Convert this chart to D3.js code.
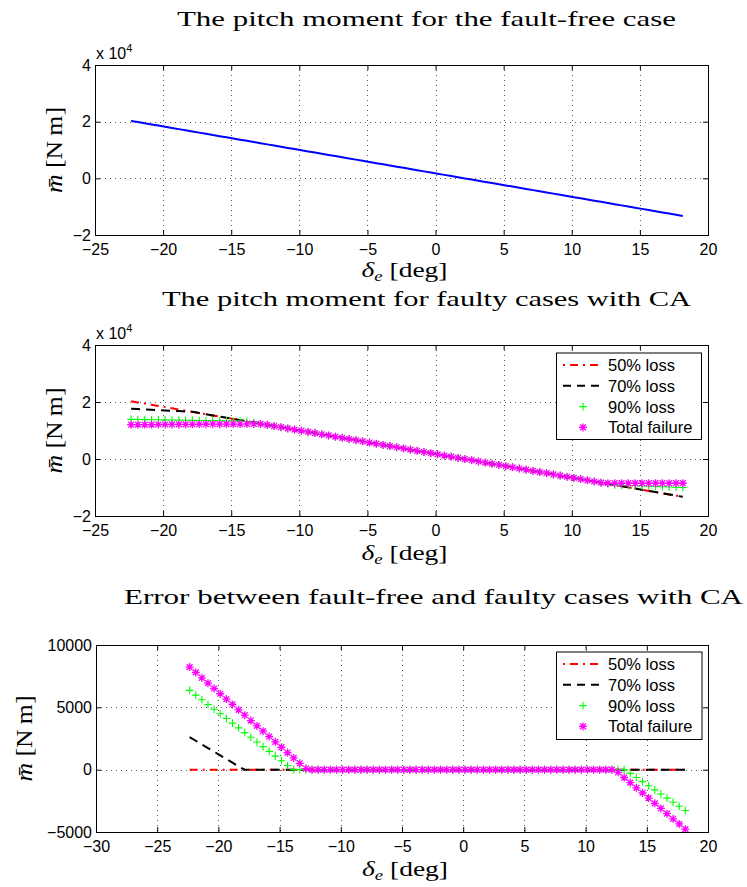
<!DOCTYPE html>
<html><head><meta charset="utf-8">
<script src="https://cdn.jsdelivr.net/npm/d3@7/dist/d3.min.js"></script>
<style>
html,body{margin:0;padding:0;background:#fff;}
svg{display:block;}
</style></head>
<body>
<svg id="chart" width="747" height="887"></svg>
<script>
// ---------------- DATA ----------------
// elevator deflection [deg]
const delta = [
 -22.35,-21.85,-21.35,-20.85,-20.35,-19.85,-19.35,-18.85,-18.35,-17.85,
 -17.35,-16.85,-16.35,-15.85,-15.35,-14.85,-14.35,-13.85,-13.35,-12.85,
 -12.35,-11.85,-11.35,-10.85,-10.35,-9.85,-9.35,-8.85,-8.35,-7.85,
 -7.35,-6.85,-6.35,-5.85,-5.35,-4.85,-4.35,-3.85,-3.35,-2.85,
 -2.35,-1.85,-1.35,-0.85,-0.35,0.15,0.65,1.15,1.65,2.15,
 2.65,3.15,3.65,4.15,4.65,5.15,5.65,6.15,6.65,7.15,
 7.65,8.15,8.65,9.15,9.65,10.15,10.65,11.15,11.65,12.15,
 12.65,13.15,13.65,14.15,14.65,15.15,15.65,16.15,16.65,17.15,
 17.65,18.15];

// pitch moment, fault-free [N m]
const mFaultFree = [
 20270,19850,19440,19020,18610,18200,17780,17370,16950,16540,
 16130,15710,15300,14880,14470,14060,13640,13230,12810,12400,
 11990,11570,11160,10740,10330,9920,9500,9090,8670,8260,
 7850,7430,7020,6600,6190,5780,5360,4950,4530,4120,
 3710,3290,2880,2460,2050,1640,1220,810,390,-20,
 -430,-850,-1260,-1680,-2090,-2500,-2920,-3330,-3750,-4160,
 -4570,-4990,-5400,-5820,-6230,-6640,-7060,-7470,-7890,-8300,
 -8710,-9130,-9540,-9960,-10370,-10780,-11200,-11610,-12030,-12440,
 -12850,-13270];

// pitch moment, faulty cases with CA [N m]
const m50 = [
 20270,19850,19440,19020,18610,18200,17780,17370,16950,16540,
 16130,15710,15300,14880,14470,14060,13640,13230,12810,12400,
 11990,11570,11160,10740,10330,9920,9500,9090,8670,8260,
 7850,7430,7020,6600,6190,5780,5360,4950,4530,4120,
 3710,3290,2880,2460,2050,1640,1220,810,390,-20,
 -430,-850,-1260,-1680,-2090,-2500,-2920,-3330,-3750,-4160,
 -4570,-4990,-5400,-5820,-6230,-6640,-7060,-7470,-7890,-8300,
 -8710,-9130,-9540,-9960,-10370,-10780,-11200,-11610,-12030,-12440,
 -12850,-13270];
const m70 = [
 17660,17530,17420,17290,17170,17060,16930,16810,16690,16540,
 16130,15710,15300,14880,14470,14060,13640,13230,12810,12400,
 11990,11570,11160,10740,10330,9920,9500,9090,8670,8260,
 7850,7430,7020,6600,6190,5780,5360,4950,4530,4120,
 3710,3290,2880,2460,2050,1640,1220,810,390,-20,
 -430,-850,-1260,-1680,-2090,-2500,-2920,-3330,-3750,-4160,
 -4570,-4990,-5400,-5820,-6230,-6640,-7060,-7470,-7890,-8300,
 -8710,-9130,-9540,-9960,-10370,-10780,-11200,-11610,-12030,-12440,
 -12850,-13270];
const m90 = [
 13910,13870,13830,13790,13760,13720,13680,13640,13600,13570,
 13530,13490,13450,13410,13380,13340,13300,13230,12810,12400,
 11990,11570,11160,10740,10330,9920,9500,9090,8670,8260,
 7850,7430,7020,6600,6190,5780,5360,4950,4530,4120,
 3710,3290,2880,2460,2050,1640,1220,810,390,-20,
 -430,-850,-1260,-1680,-2090,-2500,-2920,-3330,-3750,-4160,
 -4570,-4990,-5400,-5820,-6230,-6640,-7060,-7470,-7890,-8300,
 -8710,-9130,-9240,-9330,-9410,-9490,-9580,-9660,-9750,-9830,
 -9910,-10000];
const mTotal = [
 12040,12050,12070,12080,12100,12110,12120,12140,12150,12170,
 12190,12200,12210,12220,12240,12260,12270,12290,12300,12310,
 11990,11570,11160,10740,10330,9920,9500,9090,8670,8260,
 7850,7430,7020,6600,6190,5780,5360,4950,4530,4120,
 3710,3290,2880,2460,2050,1640,1220,810,390,-20,
 -430,-850,-1260,-1680,-2090,-2500,-2920,-3330,-3750,-4160,
 -4570,-4990,-5400,-5820,-6230,-6640,-7060,-7470,-7890,-8300,
 -8500,-8500,-8500,-8500,-8500,-8500,-8500,-8500,-8500,-8500,
 -8500,-8500];

// error between fault-free and faulty cases [N m]
const e50 = [
 0,0,0,0,0,0,0,0,0,0, 0,0,0,0,0,0,0,0,0,0,
 0,0,0,0,0,0,0,0,0,0, 0,0,0,0,0,0,0,0,0,0,
 0,0,0,0,0,0,0,0,0,0, 0,0,0,0,0,0,0,0,0,0,
 0,0,0,0,0,0,0,0,0,0, 0,0,0,0,0,0,0,0,0,0,
 0,0];
const e70 = [
 2610,2320,2020,1730,1440,1140,850,560,260,0,
 0,0,0,0,0,0,0,0,0,0, 0,0,0,0,0,0,0,0,0,0,
 0,0,0,0,0,0,0,0,0,0, 0,0,0,0,0,0,0,0,0,0,
 0,0,0,0,0,0,0,0,0,0, 0,0,0,0,0,0,0,0,0,0,
 0,0,0,0,0,0,0,0,0,0,
 0,0];
const e90 = [
 6360,5980,5610,5230,4850,4480,4100,3730,3350,2970,
 2600,2220,1850,1470,1090,720,340,0,0,0,
 0,0,0,0,0,0,0,0,0,0, 0,0,0,0,0,0,0,0,0,0,
 0,0,0,0,0,0,0,0,0,0, 0,0,0,0,0,0,0,0,0,0,
 0,0,0,0,0,0,0,0,0,0,
 0,0,-300,-630,-960,-1290,-1620,-1950,-2280,-2610,
 -2940,-3270];
const eTotal = [
 8230,7800,7370,6940,6510,6090,5660,5230,4800,4370,
 3940,3510,3090,2660,2230,1800,1370,940,510,90,
 0,0,0,0,0,0,0,0,0,0, 0,0,0,0,0,0,0,0,0,0,
 0,0,0,0,0,0,0,0,0,0, 0,0,0,0,0,0,0,0,0,0,
 0,0,0,0,0,0,0,0,0,0,
 -210,-630,-1040,-1460,-1870,-2280,-2700,-3110,-3530,-3940,
 -4350,-4770];

const legendLabels = ["50% loss","70% loss","90% loss","Total failure"];
const titles = ["The pitch moment for the fault-free case",
                "The pitch moment for faulty cases with CA",
                "Error between fault-free and faulty cases with CA"];
const xTicksA = [-25,-20,-15,-10,-5,0,5,10,15,20];
const xTicksB = [-30,-25,-20,-15,-10,-5,0,5,10,15,20];
const yTicksA = [-20000,0,20000,40000];
const yTicksB = [-5000,0,5000,10000];

// ---------------- DRAWING ----------------
const SANS = '"Liberation Sans", Arial, Helvetica, sans-serif';
const SERIF = '"Liberation Serif", "Times New Roman", serif';
const svg = d3.select("#chart");
svg.append("rect").attr("width",747).attr("height",887).attr("fill","#fff");

const fmtNum = d3.format("d");
const fmtExp = d => d3.format("d")(d/1e4);

const style50 = {type:"line", color:"#ff0000", dash:"8,5,2,5", legDash:"2,5,8,5"};
const style70 = {type:"line", color:"#000000", dash:"9,6", legDash:"8,6"};
const style90 = {type:"marker", color:"#00ff00", mark:"plus"};
const styleTot = {type:"marker", color:"#ff00ff", mark:"star"};

const markPaths = {
  plus: "M-3.8,0H3.8M0,-3.8V3.8",
  star: "M-4,0H4M0,-4V4M-2.9,-2.9L2.9,2.9M-2.9,2.9L2.9,-2.9"
};

const panels = [
  {top:65,bottom:235,left:95,right:708,xDomain:[-25,20],yDomain:[-20000,40000],
   xTicks:xTicksA,yTicks:yTicksA,yFmt:fmtExp,exp:true,expY:59,
   title:titles[0],titleX:177,titleW:499,titleY:26,
   xlabY:277,ylabX:62,
   series:[{values:mFaultFree, style:{type:"line",color:"#0000ff",dash:null}}],
   legend:null},
  {top:345,bottom:516,left:95,right:708,xDomain:[-25,20],yDomain:[-20000,40000],
   xTicks:xTicksA,yTicks:yTicksA,yFmt:fmtExp,exp:true,expY:339,
   title:titles[1],titleX:162,titleW:529,titleY:306,
   xlabY:560,ylabX:62,
   series:[{values:m50,style:style50},{values:m70,style:style70},{values:m90,style:style90},{values:mTotal,style:styleTot}],
   legend:{x0:556,y0:352.5,x1:701,y1:439}},
  {top:645,bottom:832,left:96,right:708,xDomain:[-30,20],yDomain:[-5000,10000],
   xTicks:xTicksB,yTicks:yTicksB,yFmt:fmtNum,exp:false,
   title:titles[2],titleX:124,titleW:619,titleY:604,
   xlabY:876,ylabX:32,
   series:[{values:e50,style:style50},{values:e70,style:style70},{values:e90,style:style90},{values:eTotal,style:styleTot}],
   legend:{x0:556,y0:651.5,x1:701.5,y1:739}}
];

function styleAxis(sel){
  sel.select(".domain").remove();
  sel.selectAll(".tick line").attr("stroke","#000").attr("stroke-width",1);
  sel.selectAll(".tick text").attr("fill","#000").style("font-family",SANS).style("font-size","16px");
}

panels.forEach(o=>{
  const g = svg.append("g");
  const x = d3.scaleLinear().domain(o.xDomain).range([o.left,o.right]);
  const y = d3.scaleLinear().domain(o.yDomain).range([o.bottom,o.top]);

  // grid (dotted)
  const grid = g.append("g");
  o.xTicks.filter(t=>t>o.xDomain[0]&&t<o.xDomain[1]).forEach(t=>{
    grid.append("line").attr("x1",Math.round(x(t))+0.5).attr("x2",Math.round(x(t))+0.5)
      .attr("y1",o.top).attr("y2",o.bottom);
  });
  o.yTicks.filter(t=>t>o.yDomain[0]&&t<o.yDomain[1]).forEach(t=>{
    grid.append("line").attr("y1",Math.round(y(t))+0.5).attr("y2",Math.round(y(t))+0.5)
      .attr("x1",o.left).attr("x2",o.right);
  });
  grid.selectAll("line").attr("stroke","#000").attr("stroke-width",1)
    .attr("stroke-dasharray","1,4").attr("stroke-opacity",0.65);

  // axes with inward ticks on all four sides
  g.append("g").attr("transform",`translate(0,${o.bottom})`)
    .call(d3.axisBottom(x).tickValues(o.xTicks).tickSize(-5).tickPadding(9).tickFormat(fmtNum)).call(styleAxis);
  g.append("g").attr("transform",`translate(0,${o.top})`)
    .call(d3.axisTop(x).tickValues(o.xTicks).tickSize(-5).tickFormat("")).call(styleAxis);
  g.append("g").attr("transform",`translate(${o.left},0)`)
    .call(d3.axisLeft(y).tickValues(o.yTicks).tickSize(-5).tickPadding(4).tickFormat(o.yFmt)).call(styleAxis);
  g.append("g").attr("transform",`translate(${o.right},0)`)
    .call(d3.axisRight(y).tickValues(o.yTicks).tickSize(-5).tickFormat("")).call(styleAxis);

  // data
  const line = d3.line().x((d,i)=>x(delta[i])).y(d=>y(d));
  o.series.forEach(s=>{
    const st = s.style;
    if(st.type==="line"){
      g.append("path").datum(s.values).attr("d",line)
        .attr("fill","none").attr("stroke",st.color).attr("stroke-width",2)
        .attr("stroke-dasharray",st.dash);
    } else {
      g.append("g").selectAll("path").data(s.values).join("path")
        .attr("d",markPaths[st.mark])
        .attr("transform",(d,i)=>`translate(${x(delta[i])},${y(d)})`)
        .attr("fill","none").attr("stroke",st.color).attr("stroke-width",st.mark==="star"?1.3:1.1);
    }
  });

  // box
  g.append("rect").attr("x",o.left+0.5).attr("y",o.top+0.5)
    .attr("width",o.right-o.left).attr("height",o.bottom-o.top)
    .attr("fill","none").attr("stroke","#000").attr("stroke-width",1);

  // exponent
  if(o.exp){
    const t = g.append("text").attr("x",o.left+1).attr("y",o.expY)
      .style("font-family",SANS).style("font-size","16px").attr("fill","#000");
    t.append("tspan").text("x 10");
    t.append("tspan").attr("dy",-7).style("font-size","11px").text("4");
  }

  // title
  g.append("text").attr("x",o.titleX).attr("y",o.titleY)
    .attr("textLength",o.titleW).attr("lengthAdjust","spacingAndGlyphs")
    .style("font-family",SERIF).style("font-size","22px").attr("fill","#000").text(o.title);

  // x label
  const cx = (o.left+o.right)/2 + 3;
  const xl = g.append("text").attr("x",cx-43).attr("y",o.xlabY)
    .attr("textLength",86).attr("lengthAdjust","spacingAndGlyphs")
    .style("font-family",SERIF).style("font-size","22px").attr("fill","#000");
  xl.append("tspan").style("font-style","italic").text("δ");
  xl.append("tspan").style("font-style","italic").style("font-size","15px").attr("dy",4).text("e");
  xl.append("tspan").attr("dy",-4).text(" [deg]");

  // y label
  const cy = (o.top+o.bottom)/2;
  const yl = g.append("text").attr("transform",`translate(${o.ylabX},${cy+43}) rotate(-90)`)
    .attr("x",0).attr("y",0).attr("textLength",86).attr("lengthAdjust","spacingAndGlyphs")
    .style("font-family",SERIF).style("font-size","23px").attr("fill","#000");
  yl.append("tspan").style("font-style","italic").text("m\u0304");
  yl.append("tspan").text("  [N\u2009m]");

  // legend
  if(o.legend){
    const L = o.legend;
    const lg = g.append("g");
    lg.append("rect").attr("x",L.x0+0.5).attr("y",L.y0+0.5).attr("width",L.x1-L.x0).attr("height",L.y1-L.y0)
      .attr("fill","#fff").attr("stroke","#000").attr("stroke-width",1);
    legendLabels.forEach((lab,i)=>{
      const rowY = L.y0 + 12.5 + 20.8*i;
      const st = o.series[i].style;
      if(st.type==="line"){
        lg.append("line").attr("x1",L.x0+7).attr("x2",L.x0+44).attr("y1",rowY).attr("y2",rowY)
          .attr("stroke",st.color).attr("stroke-width",2).attr("stroke-dasharray",st.legDash);
      } else {
        lg.append("path").attr("d",markPaths[st.mark]).attr("transform",`translate(${L.x0+27},${rowY})`)
          .attr("fill","none").attr("stroke",st.color).attr("stroke-width",st.mark==="star"?1.3:1.1);
      }
      lg.append("text").attr("x",L.x0+52).attr("y",rowY).attr("dy","0.36em")
        .style("font-family",SANS).style("font-size","16.5px").attr("fill","#000").text(lab);
    });
  }
});
</script>
</body></html>
